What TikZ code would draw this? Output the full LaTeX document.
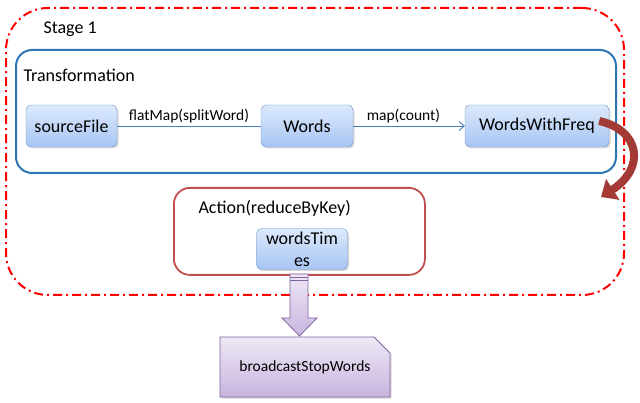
\documentclass[tikz,border=0pt]{standalone}
\usepackage{fontspec}
\setmainfont{Carlito}
\usepackage{xcolor}
\usepackage{tikz}
\usetikzlibrary{arrows.meta,positioning,shadows,shapes.misc}
\definecolor{rddline}{HTML}{6E97CF}
\definecolor{rddtop}{HTML}{DCE9FB}
\definecolor{rddbot}{HTML}{A7C5F4}
\definecolor{transblue}{HTML}{2E75B6}
\definecolor{actred}{HTML}{C0504D}
\definecolor{bendred}{HTML}{A33A36}
\definecolor{notevio}{HTML}{8064A2}
\definecolor{notetop}{HTML}{EEE8F5}
\definecolor{notebot}{HTML}{C8B4DF}
\definecolor{edgeblue}{HTML}{4A7EBB}

\begin{document}
\begin{tikzpicture}[x=1pt, y=-1pt, every node/.style={font=\fontsize{18}{22}\selectfont},
  stageframe/.style={draw=red, line width=2pt, rounded corners=42pt,
    dash pattern=on 9pt off 4pt on 2pt off 4pt, anchor=north west, inner sep=0pt},
  transframe/.style={draw=transblue, line width=2pt, rounded corners=16pt, anchor=north west, inner sep=0pt},
  actionframe/.style={draw=actred, line width=1.8pt, rounded corners=16pt, anchor=north west, inner sep=0pt},
  rdd/.style={draw=rddline, rounded corners=5pt, top color=rddtop, bottom color=rddbot,
    minimum height=42pt, align=center, inner sep=2pt,
    drop shadow={shadow xshift=1.5pt, shadow yshift=-1.5pt, fill=black!30}},
  lbl/.style={font=\fontsize{15.5}{18}\selectfont, above, inner sep=3pt},
  arr/.style={draw=edgeblue, line width=0.9pt},
  bendarr/.style={draw=bendred, line width=8pt, -{Triangle[length=14pt, width=24pt]}},
  fatarr/.style={draw=notevio, line width=0.8pt, top color=notetop, bottom color=notebot},
  note/.style={chamfered rectangle, chamfered rectangle corners=north east,
    chamfered rectangle xsep=8pt, chamfered rectangle ysep=8pt,
    draw=notevio, line width=0.8pt, top color=notetop, bottom color=notebot,
    minimum width=170pt, minimum height=60pt, font=\fontsize{15.5}{18}\selectfont,
    drop shadow={shadow xshift=1.5pt, shadow yshift=-1.5pt, fill=black!30}}]
\useasboundingbox (0,0) rectangle (640,403);

% stage and its two parts
\node[stageframe, minimum width=618pt, minimum height=287pt] (stage) at (5,7) {};
\node[anchor=west] (stagetitle) at (40,29) {Stage 1};
\node[transframe, minimum width=600pt, minimum height=123pt] (trans) at (15,49) {};
\node[anchor=west] (transtitle) at (20,75) {Transformation};
\node[actionframe, minimum width=251pt, minimum height=87pt] (action) at (173,187) {};
\node[anchor=west] (actiontitle) at (195,208) {Action(reduceByKey)};

% rdds
\node[rdd, minimum width=91pt] (source) at (71.5,126) {sourceFile};
\node[rdd, minimum width=92pt] (words) at (307,126) {Words};
\node[rdd, minimum width=144pt] (freq) at (537,126) {WordsWithFreq};
\node[rdd, minimum width=91pt, minimum height=41pt] (times) at (302,249) {wordsTim\\es};
\draw[arr] (source) -- node[lbl] (flatlbl) {flatMap(splitWord)} (words);
\draw[arr, -{Straight Barb[length=5pt, width=9pt]}] (words) -- node[lbl, pos=0.45] (maplbl) {map(count)} (freq);

% to the broadcast variable
\node[note] (bcast) at (305,367) {broadcastStopWords};
\draw[fatarr] (290,274) -- (290,318) -- (282,318) -- (299.5,336) -- (317,318) -- (308,318) -- (308,274) -- cycle;
\draw[notevio, line width=0.6pt] (290,277) -- (308,277) (290,280) -- (308,280);

% stage boundary
\coordinate (bendstart) at ([xshift=-10pt, yshift=5pt]freq.east);
\coordinate (bendend) at (601,197);
\draw[bendarr] (bendstart) .. controls (640,130) and (646,168) .. (bendend);
\end{tikzpicture}
\end{document}
